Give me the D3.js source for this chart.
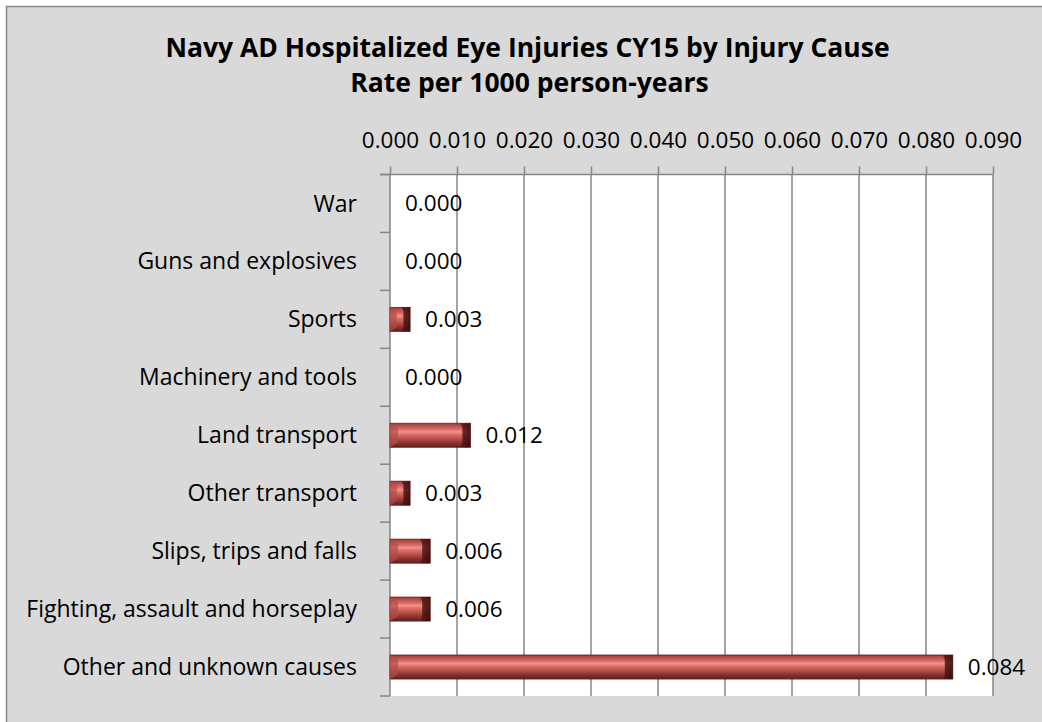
<!DOCTYPE html>
<html>
<head>
<meta charset="utf-8">
<script src="https://cdn.jsdelivr.net/npm/d3@7/dist/d3.min.js"></script>
<style>
html,body{margin:0;padding:0;background:#fff;}
svg{display:block;}
text{font-family:"Open Sans","Noto Sans",sans-serif;fill:#000;}
</style>
</head>
<body>
<svg id="chart" width="1042" height="722"></svg>
<script>
const categories = ["War","Guns and explosives","Sports","Machinery and tools","Land transport","Other transport","Slips, trips and falls","Fighting, assault and horseplay","Other and unknown causes"];
const rates = [0.000,0.000,0.003,0.000,0.012,0.003,0.006,0.006,0.084];
const tickValues = [0,0.01,0.02,0.03,0.04,0.05,0.06,0.07,0.08,0.09];
const titleLines = ["Navy AD Hospitalized Eye Injuries CY15 by Injury Cause","Rate per 1000 person-years"];

const svg = d3.select("#chart");
const W = 1042, H = 722;
const plot = {left:390, right:993, top:174.5, bottom:696};
const FONT = "'Open Sans','Noto Sans',sans-serif";

// chart area background
svg.append("rect").attr("x",6.5).attr("y",6.5).attr("width",W+10).attr("height",H+10)
  .attr("fill","#d9d9d9").attr("stroke","#888").attr("stroke-width",1.5);

// gradients
const defs = svg.append("defs");
const g = defs.append("linearGradient").attr("id","barGrad").attr("x1",0).attr("y1",0).attr("x2",0).attr("y2",1);
[[0,"#8a3431"],[0.08,"#b24b47"],[0.25,"#d96c67"],[0.36,"#f3928d"],[0.44,"#e07570"],[0.62,"#bf534f"],[0.8,"#8f3532"],[1,"#5e1f1d"]]
  .forEach(([o,c])=>g.append("stop").attr("offset",o).attr("stop-color",c));
const gr = defs.append("linearGradient").attr("id","endGrad").attr("x1",0).attr("y1",0).attr("x2",1).attr("y2",0);
[[0,"#5a1a18"],[1,"#2e0a09"]].forEach(([o,c])=>gr.append("stop").attr("offset",o).attr("stop-color",c));

const x = d3.scaleLinear().domain([0,0.09]).range([plot.left,plot.right]);
const y = d3.scaleBand().domain(categories).range([plot.top,plot.bottom]).paddingInner(0.585).paddingOuter(0.2925);

// plot area
svg.append("rect").attr("x",plot.left).attr("y",plot.top).attr("width",plot.right-plot.left).attr("height",plot.bottom-plot.top).attr("fill","#fff");

// gridlines
svg.append("g").selectAll("line").data(tickValues.slice(1)).join("line")
  .attr("x1",d=>x(d)).attr("x2",d=>x(d)).attr("y1",plot.top).attr("y2",plot.bottom)
  .attr("stroke","#868686").attr("stroke-width",1.5);

// top axis
const xAxis = svg.append("g").attr("transform",`translate(0,${plot.top})`)
  .call(d3.axisTop(x).tickValues(tickValues).tickFormat(d3.format(".3f")).tickSize(8).tickSizeOuter(0).tickPadding(19));
xAxis.select(".domain").attr("stroke","#868686").attr("stroke-width",1.5).attr("d",`M${plot.left-10},0H${plot.right}`);
xAxis.selectAll(".tick line").attr("stroke","#868686").attr("stroke-width",1.5);
xAxis.selectAll(".tick text").attr("font-size",22.5).attr("font-family",FONT).attr("fill","#000");

// left axis
const step = y.step(), offs = (step - y.bandwidth())/2;
const bounds = categories.map(c=>y(c)-offs).concat([plot.bottom]);
svg.append("line").attr("x1",plot.left).attr("x2",plot.left).attr("y1",plot.top).attr("y2",plot.bottom).attr("stroke","#868686").attr("stroke-width",1.5);
svg.append("g").selectAll("line").data(bounds).join("line")
  .attr("x1",plot.left-10).attr("x2",plot.left).attr("y1",d=>d).attr("y2",d=>d)
  .attr("stroke","#868686").attr("stroke-width",1.5);
svg.append("g").selectAll("text").data(categories).join("text")
  .attr("x",plot.left-33).attr("y",d=>y(d)+y.bandwidth()/2).attr("dy","0.35em")
  .attr("text-anchor","end").attr("font-size",23).text(d=>d);

// bars
const bars = svg.append("g");
categories.forEach((c,i)=>{
  const v = rates[i];
  if (v <= 0) return;
  const x0 = x(0), x1 = x(v), y0 = y(c), h = y.bandwidth(), y1 = y0+h;
  bars.append("rect").attr("x",x0).attr("y",y0).attr("width",x1-x0).attr("height",h)
    .attr("fill","url(#barGrad)").attr("stroke","#6a2523").attr("stroke-width",0.8);
  const b = Math.min(8,(x1-x0)/3);
  bars.append("polygon").attr("points",`${x0},${y0} ${x0+b},${y0+b*0.6} ${x0+b},${y1-b*0.6} ${x0},${y1}`)
    .attr("fill","#b24b47").attr("opacity",0.7);
  bars.append("polygon").attr("points",`${x1-b-2},${y0} ${x1},${y0} ${x1},${y1} ${x1-b-2},${y1} ${x1-b},${y1-b*0.6} ${x1-b},${y0+b*0.6}`)
    .attr("fill","url(#endGrad)").attr("opacity",0.85);
});

// data labels
svg.append("g").selectAll("text").data(categories).join("text")
  .attr("x",(d,i)=>x(rates[i])+15).attr("y",d=>y(d)+y.bandwidth()/2).attr("dy","0.35em")
  .attr("font-size",22.5).text((d,i)=>d3.format(".3f")(rates[i]));

// title
svg.append("g").selectAll("text").data(titleLines).join("text")
  .attr("x",(d,i)=> i===0 ? 527.5 : 529.5).attr("y",(d,i)=>i===0?57:92)
  .attr("text-anchor","middle").attr("font-weight","bold").attr("font-size",26.5).text(d=>d);
</script>
</body>
</html>
